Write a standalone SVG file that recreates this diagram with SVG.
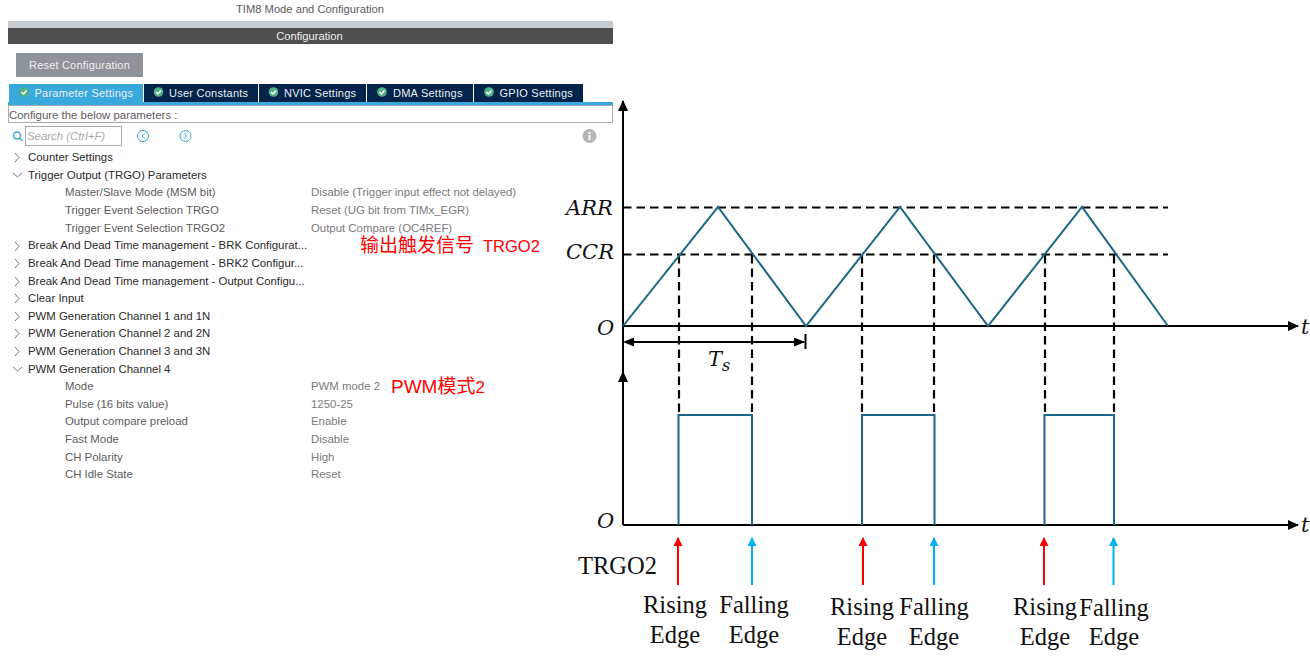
<svg xmlns="http://www.w3.org/2000/svg" width="1310" height="663" viewBox="0 0 1310 663">
<style>
text{font-family:"Liberation Sans",Arial,sans-serif;font-size:11.4px;fill:#5c5c5c}
.b{fill:#2a2a2a}
.v{fill:#7a7a7a}
.tab{fill:#e8eef2;font-size:11px;letter-spacing:.25px}
.red{fill:#f00;font-size:19px;font-family:"Noto Sans CJK SC","Liberation Sans",sans-serif}
.lat{font-family:"Liberation Sans",sans-serif}
.m{font-family:"DejaVu Serif","Liberation Serif",serif;font-style:italic;font-size:21px;fill:#111}
.s{font-family:"Liberation Serif",serif;font-size:24.5px;fill:#111;text-anchor:middle}
.ax{stroke:#000;stroke-width:2;fill:none}
.d{stroke:#000;stroke-width:2.2;stroke-dasharray:8.500 5;fill:none}
.w{stroke:#1f6788;stroke-width:2;fill:none}
.c{stroke:#777;stroke-width:1;fill:none}
.g{fill:#4fb286}
.k{fill:none;stroke:#fff;stroke-width:1.500}
</style>
<defs>
<marker id="ak" markerWidth="12" markerHeight="10" refX="10" refY="5" orient="auto" markerUnits="userSpaceOnUse"><path d="M0 0L11 5L0 10z" fill="#000"/></marker>
<marker id="ar" markerWidth="9" markerHeight="10" refX="8" refY="4.5" orient="auto" markerUnits="userSpaceOnUse"><path d="M0 0L9 4.500L0 9z" fill="#f00"/></marker>
<marker id="ab" markerWidth="9" markerHeight="10" refX="8" refY="4.5" orient="auto" markerUnits="userSpaceOnUse"><path d="M0 0L9 4.500L0 9z" fill="#00b0f0"/></marker>
</defs>
<rect width="1310" height="663" fill="#fff"/>

<g id="panel">
<text x="310" y="13" text-anchor="middle" style="font-size:11.200px">TIM8 Mode and Configuration</text>
<rect x="8" y="21" width="605" height="7" fill="#c5ccd2"/>
<rect x="8" y="28" width="605" height="16" fill="#4f4f4f"/>
<text x="309.500" y="40" text-anchor="middle" style="fill:#eee;font-size:11.200px">Configuration</text>
<rect x="16" y="53" width="127" height="24" fill="#8e9499"/>
<text x="79.500" y="69" text-anchor="middle" style="fill:#eee;font-size:11px;letter-spacing:.2px">Reset Configuration</text>
</g>

<g id="tabs">
<rect x="9" y="84" width="134" height="18" fill="#39a9dc"/>
<rect x="144" y="84" width="114" height="18" fill="#03234b"/>
<rect x="259" y="84" width="107" height="18" fill="#03234b"/>
<rect x="367" y="84" width="106" height="18" fill="#03234b"/>
<rect x="474" y="84" width="109" height="18" fill="#03234b"/>
<rect x="8" y="102" width="605" height="3" fill="#39a9dc"/>
<circle cx="24" cy="92" r="4.800" class="g"/><circle cx="158.500" cy="92" r="4.800" class="g"/><circle cx="273.500" cy="92" r="4.800" class="g"/><circle cx="382" cy="92" r="4.800" class="g"/><circle cx="489" cy="92" r="4.800" class="g"/>
<path class="k" d="M21.500 92L23.500 94L26.500 90.500M156 92L158 94L161 90.500M271 92L273 94L276 90.500M379.500 92L381.500 94L384.500 90.500M486.500 92L488.500 94L491.500 90.500"/>
<text x="34.500" y="97" class="tab">Parameter Settings</text>
<text x="169" y="97" class="tab">User Constants</text>
<text x="284" y="97" class="tab">NVIC Settings</text>
<text x="393" y="97" class="tab">DMA Settings</text>
<text x="499.500" y="97" class="tab">GPIO Settings</text>
</g>

<g id="toolbar">
<rect x="8.500" y="105.500" width="604" height="17" fill="#fff" stroke="#aaa"/>
<text x="9" y="119">Configure the below parameters :</text>
<circle cx="17" cy="135.500" r="3.500" fill="none" stroke="#3aa6dd" stroke-width="1.500"/><path d="M19.500 138L22.500 141" stroke="#3aa6dd" stroke-width="1.500"/>
<rect x="25.500" y="126.500" width="96" height="19" fill="#fff" stroke="#aaa"/>
<text x="27" y="140" style="font-style:italic;fill:#aaa">Search (Ctrl+F)</text>
<circle cx="143" cy="136" r="5.500" fill="none" stroke="#3aa6dd"/><path d="M144.500 133.500L142 136L144.500 138.500" fill="none" stroke="#3aa6dd"/>
<circle cx="185.500" cy="136" r="5.500" fill="none" stroke="#3aa6dd"/><path d="M184 133.500L186.500 136L184 138.500" fill="none" stroke="#3aa6dd"/>
<circle cx="589.500" cy="136" r="7" fill="#b5b5b5"/><rect x="588.500" y="135" width="2" height="5" fill="#fff"/><rect x="588.500" y="132" width="2" height="2" fill="#fff"/>
</g>

<g id="tree">
<path class="c" d="M15 153L19 157.500L15 162M15 242L19 246.500L15 251M15 259L19 263.500L15 268M15 277L19 281.500L15 286M15 294L19 298.500L15 303M15 312L19 316.500L15 321M15 329L19 333.500L15 338M15 347L19 351.500L15 356M13 173L17.500 177L22 173M13 367L17.500 371L22 367"/>
<text x="28" y="161" class="b">Counter Settings</text>
<text x="28" y="179" class="b">Trigger Output (TRGO) Parameters</text>
<text x="65" y="196">Master/Slave Mode (MSM bit)</text>
<text x="65" y="214">Trigger Event Selection TRGO</text>
<text x="65" y="232">Trigger Event Selection TRGO2</text>
<text x="28" y="249" class="b">Break And Dead Time management - BRK Configurat...</text>
<text x="28" y="267" class="b">Break And Dead Time management - BRK2 Configur...</text>
<text x="28" y="285" class="b">Break And Dead Time management - Output Configu...</text>
<text x="28" y="302" class="b">Clear Input</text>
<text x="28" y="320" class="b">PWM Generation Channel 1 and 1N</text>
<text x="28" y="337" class="b">PWM Generation Channel 2 and 2N</text>
<text x="28" y="355" class="b">PWM Generation Channel 3 and 3N</text>
<text x="28" y="373" class="b">PWM Generation Channel 4</text>
<text x="65" y="390">Mode</text>
<text x="65" y="408">Pulse (16 bits value)</text>
<text x="65" y="425">Output compare preload</text>
<text x="65" y="443">Fast Mode</text>
<text x="65" y="461">CH Polarity</text>
<text x="65" y="478">CH Idle State</text>
<text x="311" y="196" class="v">Disable (Trigger input effect not delayed)</text>
<text x="311" y="214" class="v">Reset (UG bit from TIMx_EGR)</text>
<text x="311" y="232" class="v">Output Compare (OC4REF)</text>
<text x="311" y="390" class="v">PWM mode 2</text>
<text x="311" y="408" class="v">1250-25</text>
<text x="311" y="425" class="v">Enable</text>
<text x="311" y="443" class="v">Disable</text>
<text x="311" y="461" class="v">High</text>
<text x="311" y="478" class="v">Reset</text>
</g>

<g id="notes">
<text x="360" y="252" class="red">输出触发信号<tspan class="lat" x="483" font-size="16.500">TRGO2</tspan></text>
<text x="391" y="393" class="red"><tspan class="lat">PWM</tspan>模式<tspan class="lat" font-size="17">2</tspan></text>
</g>

<g id="connectors">
<path class="ax" marker-end="url(#ak)" d="M623 326V101"/>
<path class="ax" marker-end="url(#ak)" d="M623 326H1298"/>
<path class="ax" marker-end="url(#ak)" d="M623 525V372"/>
<path class="ax" d="M623 326V372"/>
<path class="ax" marker-end="url(#ak)" d="M623 525H1298"/>
<path class="d" d="M623 207.500H1168M623 254.500H1168"/>
<path class="d" d="M679 255V415M752 255V415M862 255V415M934 255V415M1045 255V415M1114 255V415"/>
<path class="w" d="M623 326L718 207L806 326L900 207L988 326L1082 207L1168 326"/>
<path class="w" d="M678.500 525V415H752V525M862 525V415H934.500V525M1044.500 525V415H1114V525"/>
<path class="ax" d="M625 342H804"/>
<path d="M623 342L634 337.500V346.500zM805 342L794 337.500V346.500z" fill="#000"/>
<path class="ax" d="M805.500 334V349"/>
<g stroke-width="2" fill="none">
<path stroke="#f00" marker-end="url(#ar)" d="M678 585V538"/>
<path stroke="#00b0f0" marker-end="url(#ab)" d="M752 585V538"/>
<path stroke="#f00" marker-end="url(#ar)" d="M863 585V538"/>
<path stroke="#00b0f0" marker-end="url(#ab)" d="M934 585V538"/>
<path stroke="#f00" marker-end="url(#ar)" d="M1044 585V538"/>
<path stroke="#00b0f0" marker-end="url(#ab)" d="M1113.500 585V538"/>
</g>
</g>

<g id="axis-labels">
<text x="566" y="215" class="m">ARR</text>
<text x="566" y="259" class="m">CCR</text>
<text x="597" y="335" class="m">O</text>
<text x="597" y="528" class="m">O</text>
<text x="1301" y="334" class="m">t</text>
<text x="1301" y="532" class="m">t</text>
<text x="708" y="366" class="m">T<tspan dy="5" font-size="16">s</tspan></text>
</g>

<g id="edge-labels">
<text x="578" y="574" style="font-family:'Liberation Serif',serif;font-size:24.500px;fill:#111">TRGO2</text>
<text x="675" y="613" class="s">Rising</text><text x="675" y="643" class="s">Edge</text>
<text x="754" y="613" class="s">Falling</text><text x="754" y="643" class="s">Edge</text>
<text x="862" y="615" class="s">Rising</text><text x="862" y="645" class="s">Edge</text>
<text x="934" y="615" class="s">Falling</text><text x="934" y="645" class="s">Edge</text>
<text x="1045" y="615" class="s">Rising</text><text x="1045" y="645" class="s">Edge</text>
<text x="1114" y="616" class="s">Falling</text><text x="1114" y="645" class="s">Edge</text>
</g>
</svg>
